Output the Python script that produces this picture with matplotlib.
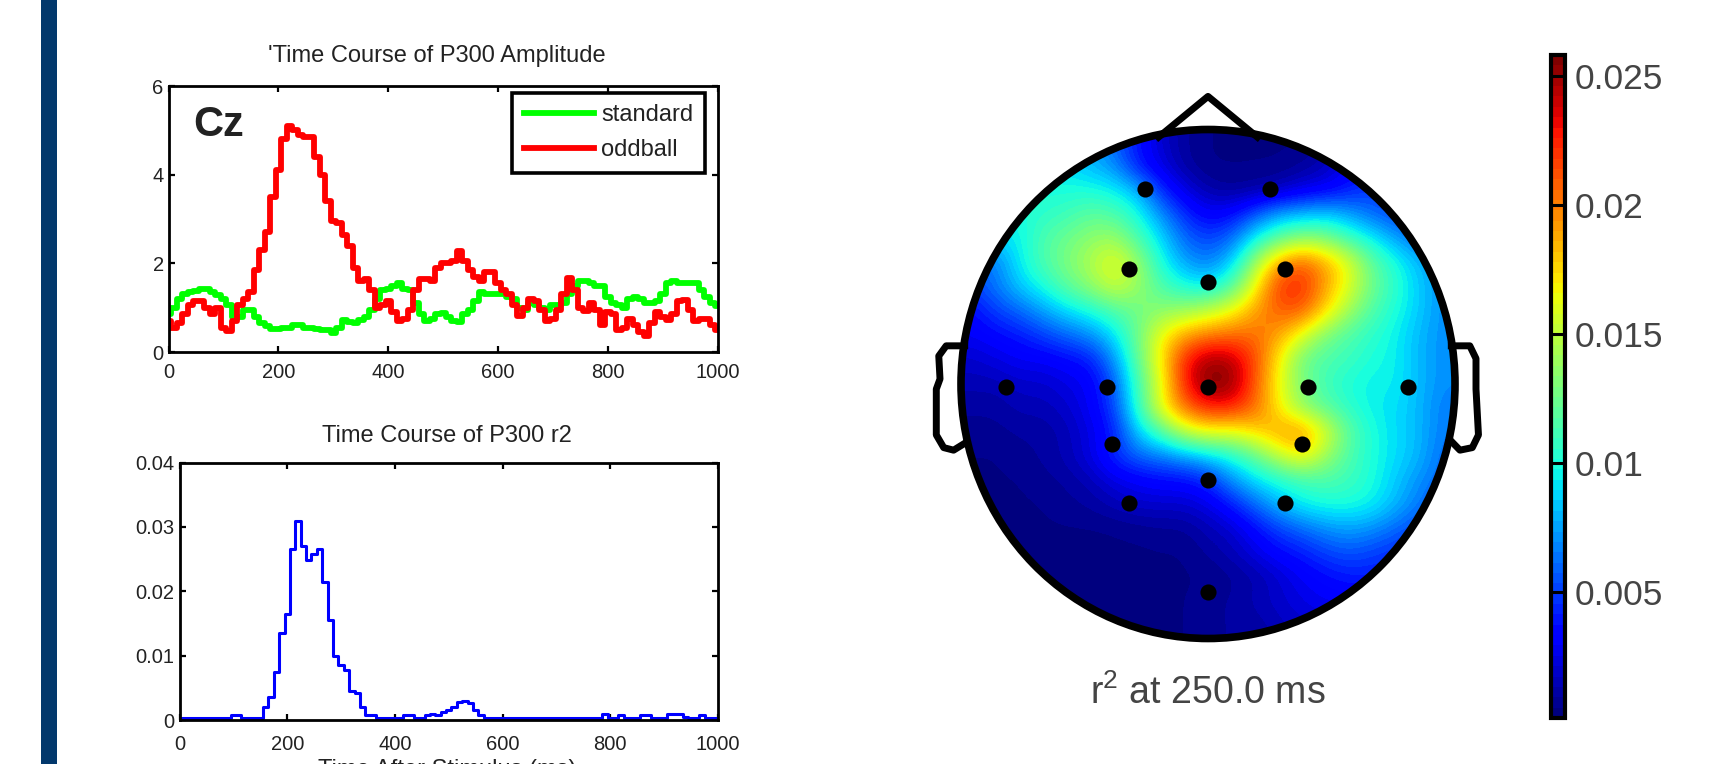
"""P300 time courses at Cz and r^2 scalp map at 250 ms."""

import numpy as np
import matplotlib
matplotlib.use('Agg')
import matplotlib.pyplot as plt
from matplotlib.patches import Ellipse, Rectangle

plt.rcParams.update({
    'font.family': 'Liberation Sans', 'mathtext.default': 'regular',
    'axes.linewidth': 2.0, 'text.color': '#222222',
})

W, H = 1727, 764

time_ms = np.arange(0, 1001, 10)
standard = [
    .85, 1.0, 1.2, 1.3, 1.35, 1.38, 1.42, 1.42, 1.35, 1.28,
    1.2, 1.05, .8, .8, .95, .95, .8, .65, .58, .52,
    .52, .55, .55, .62, .62, .55, .55, .52, .5, .5,
    .42, .55, .72, .68, .65, .72, .8, .95, 1.2, 1.4,
    1.42, 1.5, 1.55, 1.42, 1.4, 1.1, .85, .7, .75, .85,
    .88, .8, .7, .68, .85, .95, 1.15, 1.35, 1.3, 1.3,
    1.3, 1.3, 1.25, 1.2, 1.0, .95, 1.1, 1.05, 1.0, .95,
    1.05, 1.05, 1.1, 1.3, 1.5, 1.6, 1.6, 1.55, 1.5, 1.5,
    1.25, 1.1, 1.05, 1.0, 1.2, 1.25, 1.2, 1.1, 1.1, 1.15,
    1.3, 1.55, 1.6, 1.55, 1.55, 1.55, 1.55, 1.4, 1.25, 1.1,
    1.03,
]
oddball = [
    .7, .55, .65, .85, 1.05, 1.15, 1.15, 1.0, .85, 1.0,
    .55, .48, .7, 1.05, 1.2, 1.35, 1.85, 2.3, 2.7, 3.5,
    4.1, 4.8, 5.1, 5.0, 4.9, 4.85, 4.85, 4.4, 4.0, 3.4,
    2.95, 2.9, 2.65, 2.4, 1.9, 1.6, 1.65, 1.4, 1.0, 1.05,
    1.15, .9, .7, .75, .95, 1.4, 1.65, 1.65, 1.6, 1.9,
    2.0, 2.0, 2.05, 2.27, 2.05, 1.85, 1.7, 1.6, 1.8, 1.8,
    1.55, 1.4, 1.3, 1.05, .82, 1.0, 1.2, 1.15, .95, .7,
    .75, .95, 1.3, 1.67, 1.4, 1.0, .93, 1.1, .95, .6,
    .9, .85, .5, .55, .75, .6, .45, .37, .65, .9,
    .78, .72, .85, 1.15, 1.18, .95, .7, .75, .75, .6,
    .5,
]
r2_course = [
    .0003, .0003, .0003, .0003, .0003, .0003, .0003, .0003, .0003, .0003,
    .0008, .0008, .0003, .0003, .0003, .0003, .002, .0035, .0075, .0135,
    .0165, .0265, .031, .027, .0248, .0258, .0265, .0215, .0155, .01,
    .0085, .0078, .0045, .0042, .002, .0008, .0008, .0003, .0003, .0003,
    .0003, .0003, .0008, .0008, .0003, .0003, .0008, .001, .0008, .0012,
    .0016, .002, .0028, .003, .0026, .0015, .0008, .0003, .0003, .0003,
    .0003, .0003, .0003, .0003, .0003, .0003, .0003, .0003, .0003, .0003,
    .0003, .0003, .0003, .0003, .0003, .0003, .0003, .0003, .0003, .0009,
    .0003, .0003, .0007, .0003, .0003, .0003, .0008, .0008, .0003, .0003,
    .0003, .001, .001, .001, .0005, .0003, .0003, .0008, .0003, .0003,
    .0003,
]

# scalp map on a 21 x 21 grid, units of 0.001
r2_map = [
    [8, 8, 8, 8, 8, 8, 6, 4, 2, 1, .5, .5, .5, .5, .5, 1, 2, 3, 3, 3, 3],
    [9, 9, 9, 9, 9, 8, 7, 4, 2.5, 1, .5, .5, .5, .5, .8, 1.5, 3, 4, 4, 4, 4],
    [10, 10, 10, 10, 10, 10, 9.5, 8, 4.5, 2.5, 1.2, .8, 1, 1.5, 2.5, 3, 4, 5, 5, 5, 5],
    [10, 10, 10, 10.5, 11, 12, 11.5, 10, 7, 4.5, 3, 3.5, 5.5, 7.5, 8, 8.5, 7.5, 6, 5, 5, 5],
    [9, 9, 9.5, 11.5, 12.5, 13.5, 14, 11.5, 9, 6, 5, 6, 9.5, 12, 13.5, 13, 11, 9.5, 7.5, 6, 6],
    [6, 6.5, 9.5, 11.5, 13, 14.5, 16.5, 14, 10, 7.5, 6.5, 8.5, 14, 19, 21, 19, 16, 12, 10, 8, 7],
    [5, 6.5, 8.5, 10, 12, 13.5, 15.5, 14, 11.5, 10, 9.5, 11.5, 16.5, 22, 22.5, 19, 16, 12.5, 10.5, 8.5, 7],
    [3.5, 5, 6, 7.5, 9, 10, 11.5, 12.5, 13.5, 14, 15, 16.5, 19, 21, 21, 17.5, 14, 11.5, 10, 8.5, 7],
    [3, 3.5, 4, 5, 6, 7, 9, 12.5, 16.5, 19, 20, 20.5, 20.5, 19, 16, 13, 11.5, 10.5, 9.5, 8, 7],
    [2, 2.5, 3, 3, 3.5, 4, 7, 12, 17, 22.5, 25, 24.5, 21.5, 17, 12.5, 11.5, 11, 10, 9.5, 8, 7],
    [1.5, 1.5, 2, 2, 2.5, 3, 5.5, 11, 16, 22.5, 26, 25.5, 21, 16.5, 13, 11, 10, 9.5, 9.5, 8, 7],
    [1, 1, 1.5, 1.5, 2, 3, 5, 10.5, 16.5, 20.5, 22.5, 22.5, 20.5, 17, 13.5, 12, 10.5, 9.5, 9, 8, 6.5],
    [.8, .8, 1, 1, 1.5, 2.5, 4, 8.5, 11.5, 15, 16.5, 16, 17.5, 19, 20, 16, 12, 10, 9, 8, 6.5],
    [.5, .5, .8, 1, 1.5, 2.5, 4.5, 6, 6.5, 7.5, 8.5, 10, 12, 15, 17, 14, 11.5, 10, 9, 8, 6],
    [.5, .5, .5, .8, 1, 1.5, 2.5, 3, 3.5, 3.5, 4.5, 7, 9, 10, 11, 11.5, 11, 10, 8.5, 7, 6],
    [.5, .5, .5, .5, .8, 1, 1.5, 2, 2, 2, 2.5, 4, 6, 8, 9.5, 10, 10, 9.5, 8, 6.5, 5],
    [.3, .3, .5, .5, .5, .5, .5, .6, .8, .8, 1.5, 2, 3.5, 5, 6, 7, 7.5, 7, 6, 5, 5],
    [.3, .3, .3, .3, .3, .3, .5, .5, .5, .5, 1, 1.5, 2.5, 3.5, 4, 5, 5.5, 5, 4.5, 4, 4],
    [.3, .3, .3, .3, .3, .3, .3, .3, .5, .5, .5, .8, 1.2, 2, 3, 3.5, 4, 4, 4, 3.5, 3],
    [.3, .3, .3, .3, .3, .3, .3, .5, .5, .5, .8, 1, 1.5, 2, 2.5, 3, 3, 3, 3, 3, 3],
    [.3, .3, .3, .3, .3, .3, .5, .5, .5, .5, .8, 1, 1, 1.5, 2, 2, 2, 2, 2, 2, 2],
]

elec_x = [-.254, .25, -.32, 0, .31, -.817, -.41, 0, .406, .808,
          -.388, .38, 0, -.32, .31, 0]
elec_y = [.766, .766, .45, .40, .45, -.013, -.013, -.013, -.013, -.013,
          -.234, -.234, -.377, -.468, -.468, -.818]

nose_x = [-.2, 0, .2]
nose_y = [.97, 1.13, .97]
ear_l_x = [-.985, -1.06, -1.09, -1.085, -1.10, -1.10, -1.07, -1.03, -.98]
ear_l_y = [.15, .15, .11, .02, -.02, -.2, -.25, -.26, -.23]
ear_r_x = [.985, 1.06, 1.085, 1.085, 1.095, 1.07, 1.02, .98]
ear_r_y = [.15, .15, .1, -.02, -.2, -.25, -.26, -.22]

cbar_ticks = [.005, .01, .015, .02, .025]
cbar_labels = ['0.005', '0.01', '0.015', '0.02', '0.025']


def px_axes(x0, x1, y0, y1):
    # axes box given in picture pixels, y counted from the top
    return fig.add_axes([x0 / W, 1 - y1 / H, (x1 - x0) / W, (y1 - y0) / H])


fig = plt.figure(figsize=(W / 100, H / 100), dpi=100)
fig.add_artist(Rectangle((41 / W, 0), 16 / W, 1, transform=fig.transFigure,
                         color='#02386c', lw=0))

# ===== top: amplitude =====
ax = px_axes(168.5, 718, 86, 352)
ax.plot(time_ms, standard, color='#00ff00', lw=4.2, drawstyle='steps-mid',
        label='standard')
ax.plot(time_ms, oddball, color='#ff0000', lw=4.2, drawstyle='steps-mid',
        label='oddball')
ax.set_xlim(0, 1000)
ax.set_ylim(0, 6)
ax.set_yticks([0, 2, 4, 6])
ax.set_xticks(range(0, 1001, 200))
ax.tick_params(direction='in', length=4, width=1.6, top=True, right=True,
               labelsize=14.5, labelcolor='#222222')
ax.tick_params(axis='x', pad=8)
ax.text(.045, .855, 'Cz', transform=ax.transAxes, fontsize=30, color='#222222',
        ha='left', va='center', fontweight='bold')
leg = ax.legend(loc='upper right', bbox_to_anchor=(.976, .975), borderaxespad=0,
                fontsize=17, fancybox=False, framealpha=1, edgecolor='black',
                handlelength=2.95, handletextpad=.3, labelspacing=.55,
                borderpad=.5)
leg.get_frame().set_linewidth(2.6)
fig.text(437 / W, 1 - 56 / H, "'Time Course of P300 Amplitude", fontsize=17,
         ha='center', va='center')

# ===== bottom: r2 =====
ax2 = px_axes(179.5, 718, 462.6, 720)
ax2.plot(time_ms, r2_course, color='#0000ff', lw=2.2, drawstyle='steps-mid')
ax2.set_xlim(0, 1000)
ax2.set_ylim(0, .04)
ax2.set_yticks([0, .01, .02, .03, .04])
ax2.set_yticklabels(['0', '0.01', '0.02', '0.03', '0.04'])
ax2.set_xticks(range(0, 1001, 200))
ax2.tick_params(direction='in', length=4, width=1.6, top=True, right=True,
                labelsize=14.5, labelcolor='#222222')
ax2.tick_params(axis='x', pad=11)
fig.text(447 / W, 1 - 436 / H, 'Time Course of P300 r2', fontsize=17,
         ha='center', va='center')
fig.text(447 / W, 1 - 759 / H, 'Time After Stimulus (ms)', fontsize=17,
         ha='center', va='top')

# ===== scalp map =====
sx, sy = 247, 254.5
lim = 1.3
hd = px_axes(1208 - lim * sx, 1208 + lim * sx, 384 - lim * sy, 384 + lim * sy)
hd.set_xlim(-lim, lim)
hd.set_ylim(-lim, lim)
hd.axis('off')
jet = plt.get_cmap('jet', 64)
vmin, vmax = .00014, .0258
im = hd.imshow(np.array(r2_map) * 1e-3, extent=(-1, 1, -1, 1), origin='upper',
               cmap=jet, vmin=vmin, vmax=vmax, interpolation='bicubic',
               aspect='auto')
im.set_clip_path(Ellipse((0, 0), 2, 2, transform=hd.transData))
hd.add_patch(Ellipse((0, 0), 2, 2, fill=False, ec='black', lw=5.5))
hd.plot(nose_x, nose_y, color='black', lw=5, solid_joinstyle='round')
hd.plot(ear_l_x, ear_l_y, color='black', lw=5, solid_joinstyle='round')
hd.plot(ear_r_x, ear_r_y, color='black', lw=5, solid_joinstyle='round')
hd.scatter(elec_x, elec_y, s=135, color='black', zorder=5, linewidths=0)
fig.text(1208 / W, 1 - 693 / H, r'r$^{2}$ at 250.0 ms', fontsize=27,
         color='#444444', ha='center', va='center')

# ===== colorbar =====
cax = px_axes(1551, 1565, 55, 718)
cb = fig.colorbar(im, cax=cax)
cb.set_ticks(cbar_ticks)
cb.set_ticklabels(cbar_labels)
cb.ax.tick_params(direction='in', length=10, width=2.2, labelsize=25.5,
                  labelcolor='#444444', pad=7, right=True)
cb.outline.set_linewidth(3.0)

fig.savefig('out.png', dpi=100)
